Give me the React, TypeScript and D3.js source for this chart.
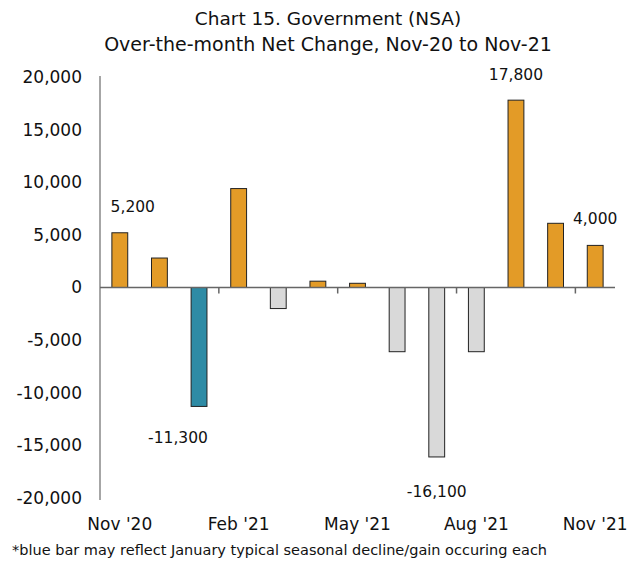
import * as d3 from "d3";
import React, { useEffect, useRef } from "react";

const months = [
    "Nov '20", "Dec '20", "Jan '21", "Feb '21", "Mar '21", "Apr '21", "May '21",
    "Jun '21", "Jul '21", "Aug '21", "Sep '21", "Oct '21", "Nov '21",
];
const netChange = [5200, 2800, -11300, 9400, -2000, 600, 400, -6100, -16100, -6100, 17800, 6100, 4000];
const shownLabels = ["Nov '20", "Feb '21", "May '21", "Aug '21", "Nov '21"];
const yTicks = [20000, 15000, 10000, 5000, 0, -5000, -10000, -15000, -20000];
const annotated = ["Nov '20", "Jan '21", "Jul '21", "Sep '21", "Nov '21"];

// plain hyphen instead of d3's unicode minus
const fmt = (v: number) => d3.format(",")(v).replace("\u2212", "-");

export default function App() {
    const svgRef = useRef<SVGSVGElement | null>(null);

    useEffect(() => {
        if (!svgRef.current) return;
        const svg = d3.select(svgRef.current);
        svg.selectAll("*").remove();

        const width = 641;
        const height = 564;
        const left = 100;
        const right = 615;
        const font = "'DejaVu Sans', sans-serif";

        svg.attr("width", width).attr("height", height);

        const x = d3.scaleBand<string>().domain(months).range([left, right]).paddingInner(0.6).paddingOuter(0.3);
        const band = d3.scaleBand<string>().domain(months).range([left, right]);
        const y = d3.scaleLinear().domain([-20000, 20000]).range([498, 77]);

        // title
        svg.append("text").attr("x", 328).attr("y", 25).attr("text-anchor", "middle")
            .style("font-family", font).style("font-size", "18.5px").attr("fill", "#111")
            .text("Chart 15. Government (NSA)");
        svg.append("text").attr("x", 328).attr("y", 51).attr("text-anchor", "middle")
            .style("font-family", font).style("font-size", "19px").attr("fill", "#111")
            .text("Over-the-month Net Change, Nov-20 to Nov-21");

        // y axis labels
        svg.append("g").selectAll("text").data(yTicks).enter().append("text")
            .attr("x", 82).attr("y", (d) => y(d)).attr("dy", "0.35em").attr("text-anchor", "end")
            .style("font-family", font).style("font-size", "17px").attr("fill", "#111")
            .text((d) => fmt(d));

        svg.append("line").attr("x1", left).attr("x2", left).attr("y1", y(20000) - 1).attr("y2", y(-20000) + 2)
            .attr("stroke", "#888").attr("stroke-width", 1.5);

        const colorFor = (m: string, v: number) =>
            m.startsWith("Jan") ? "#2E8BA5" : v >= 0 ? "#E39B27" : "#D9D9D9";

        svg.append("g").selectAll("rect").data(months).enter().append("rect")
            .attr("x", (m) => x(m)!)
            .attr("width", x.bandwidth())
            .attr("y", (m, i) => y(Math.max(0, netChange[i])))
            .attr("height", (m, i) => Math.abs(y(netChange[i]) - y(0)))
            .attr("fill", (m, i) => colorFor(m, netChange[i]))
            .attr("stroke", "#222").attr("stroke-width", 1);

        // zero line and ticks
        svg.append("line").attr("x1", left).attr("x2", right).attr("y1", y(0)).attr("y2", y(0))
            .attr("stroke", "#666").attr("stroke-width", 1.5);
        const tickIdx = [3, 6, 9, 12];
        svg.append("g").selectAll("line").data(tickIdx).enter().append("line")
            .attr("x1", (k) => left + k * band.bandwidth()).attr("x2", (k) => left + k * band.bandwidth())
            .attr("y1", y(0)).attr("y2", y(0) + 6)
            .attr("stroke", "#666").attr("stroke-width", 1.5);

        // category labels
        svg.append("g").selectAll("text").data(shownLabels).enter().append("text")
            .attr("x", (m) => x(m)! + x.bandwidth() / 2).attr("y", 530).attr("text-anchor", "middle")
            .style("font-family", font).style("font-size", "17px").attr("fill", "#111")
            .text((m) => m);

        // data labels
        const offsets: Record<string, [number, number]> = {
            "Nov '20": [13, -26],
            "Jan '21": [-21, 31],
            "Jul '21": [0, 35],
            "Sep '21": [0, -26],
            "Nov '21": [0, -27],
        };
        svg.append("g").selectAll("text").data(annotated).enter().append("text")
            .attr("x", (m) => x(m)! + x.bandwidth() / 2 + offsets[m][0])
            .attr("y", (m) => y(netChange[months.indexOf(m)]) + offsets[m][1])
            .attr("dy", "0.35em").attr("text-anchor", "middle")
            .style("font-family", font).style("font-size", "15.5px").attr("fill", "#111")
            .text((m) => fmt(netChange[months.indexOf(m)]));

        // footnote
        svg.append("text").attr("x", 12).attr("y", 555)
            .style("font-family", font).style("font-size", "14.5px").attr("fill", "#111")
            .text("*blue bar may reflect January typical seasonal decline/gain occuring each");
    }, []);

    return <svg ref={svgRef} style={{ position: "absolute", left: 0, top: 0 }} />;
}
